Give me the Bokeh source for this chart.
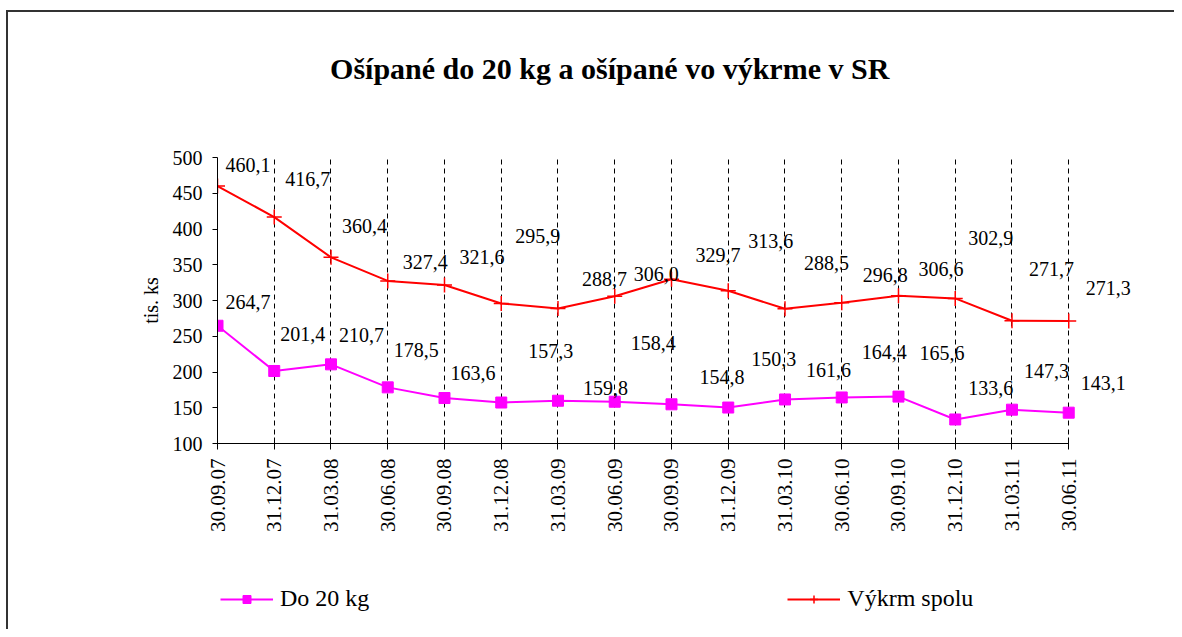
from math import pi
from bokeh.plotting import figure
from bokeh.layouts import column
from bokeh.models import (ColumnDataSource, FixedTicker, Range1d, LabelSet, Label,
                          Legend, LegendItem)
from bokeh.embed import file_html
from bokeh.resources import INLINE

title_text = "Ošípané do 20 kg a ošípané vo výkrme v SR"
y_label = "tis. ks"
dates = ["30.09.07", "31.12.07", "31.03.08", "30.06.08", "30.09.08", "31.12.08",
         "31.03.09", "30.06.09", "30.09.09", "31.12.09", "31.03.10", "30.06.10",
         "30.09.10", "31.12.10", "31.03.11", "30.06.11"]
do20 = [264.7, 201.4, 210.7, 178.5, 163.6, 157.3, 159.8, 158.4, 154.8, 150.3,
        161.6, 164.4, 165.6, 133.6, 147.3, 143.1]
vykrm = [460.1, 416.7, 360.4, 327.4, 321.6, 295.9, 288.7, 306.0, 329.7, 313.6,
         288.5, 296.8, 306.6, 302.9, 271.7, 271.3]
y_ticks = [100, 150, 200, 250, 300, 350, 400, 450, 500]
name_do20 = "Do 20 kg"
name_vykrm = "Výkrm spolu"

# label placement offsets (pixels, style only)
vykrm_dx = [8, 11, 11, 15, 15, 14, 24, 19, 24, 20, 19, 21, 20, 13, 17, 17]
vykrm_dy = [21, 38, 31, 19, 28, 67, 30, 22, 24, 50, 46, 28, 27, 60, 52, 33]
do20_dx = [8, 6, 8, 6, 6, 27, 25, 16, 28, 23, 21, 20, 21, 13, 12, 12]
do20_dy = [24, 37, 29, 37, 25, 52, 13, 59, 27, 49, 29, 45, 44, 31, 39, 30]

FONT = "Liberation Serif"
MAGENTA = "#FF00FF"
RED = "#FF0000"
xs = list(range(len(dates)))
n_last = len(dates) - 1

def fmt(v):
    return f"{v:.1f}".replace(".", ",")

src_a = ColumnDataSource(dict(x=xs, y=do20, t=[fmt(v) for v in do20], dx=do20_dx, dy=do20_dy))
src_b = ColumnDataSource(dict(x=xs, y=vykrm, t=[fmt(v) for v in vykrm], dx=vykrm_dx, dy=vykrm_dy))

def strip(height):
    f = figure(width=1166, height=height, x_range=Range1d(0, 1), y_range=Range1d(0, 1),
               output_backend="svg", toolbar_location=None,
               min_border_left=0, min_border_right=0, min_border_top=0, min_border_bottom=0)
    f.axis.visible = False
    f.grid.visible = False
    f.outline_line_color = None
    f.border_fill_color = "white"
    f.background_fill_color = "white"
    return f

# title strip
t = strip(100)
t.add_layout(Label(x=0.424, y=0.44, text=title_text, text_font=FONT, text_font_size="30px",
                   text_font_style="bold", text_align="center", text_baseline="middle",
                   text_color="black"))

# main chart
p = figure(width=1166, height=460, x_range=Range1d(0, n_last + 1.3), y_range=Range1d(100, 500),
           output_backend="svg", toolbar_location=None,
           min_border_left=209, min_border_right=32, min_border_top=45, min_border_bottom=129)
p.outline_line_color = None
p.background_fill_color = "white"
p.border_fill_color = "white"

p.ygrid.visible = False
p.xgrid.ticker = FixedTicker(ticks=xs)
p.xgrid.grid_line_color = "black"
p.xgrid.grid_line_dash = "5 4"
p.xgrid.grid_line_width = 1

xa = p.xaxis[0]
xa.bounds = (0, n_last)
xa.ticker = FixedTicker(ticks=xs)
xa.major_label_overrides = {i: d for i, d in enumerate(dates)}
xa.major_label_orientation = pi / 2
xa.major_label_text_font = FONT
xa.major_label_text_font_size = "21px"
xa.major_label_text_color = "black"
xa.major_tick_in = 6
xa.major_tick_out = 6
xa.minor_tick_line_color = None
xa.axis_line_color = "black"
xa.major_tick_line_color = "black"
xa.major_label_standoff = 9

ya = p.yaxis[0]
ya.ticker = FixedTicker(ticks=y_ticks)
ya.major_label_text_font = FONT
ya.major_label_text_font_size = "20px"
ya.major_label_text_color = "black"
ya.major_tick_in = 0
ya.major_tick_out = 5
ya.minor_tick_line_color = None
ya.axis_line_color = "black"
ya.major_tick_line_color = "black"
ya.major_label_standoff = 10
ya.axis_label = y_label
ya.axis_label_text_font = FONT
ya.axis_label_text_font_size = "20px"
ya.axis_label_text_font_style = "normal"
ya.axis_label_text_color = "black"
ya.axis_label_standoff = 8

p.line("x", "y", source=src_a, line_color=MAGENTA, line_width=2)
p.scatter("x", "y", source=src_a, marker="square", size=11, fill_color=MAGENTA, line_color=MAGENTA)
p.line("x", "y", source=src_b, line_color=RED, line_width=2)
p.scatter("x", "y", source=src_b, marker="cross", size=15, line_color=RED, line_width=1.5)

for src in (src_a, src_b):
    p.add_layout(LabelSet(x="x", y="y", text="t", source=src, x_offset="dx", y_offset="dy",
                          text_font=FONT, text_font_size="20px", text_color="black",
                          text_align="left", text_baseline="middle"))

# legend strip below the chart (series drawn outside its visible window; only the legend shows)
q = strip(57)
qa_l = q.line("x", "y", source=src_a, line_color=MAGENTA, line_width=2)
qa_m = q.scatter("x", "y", source=src_a, marker="square", size=11, fill_color=MAGENTA, line_color=MAGENTA)
qb_l = q.line("x", "y", source=src_b, line_color=RED, line_width=2)
qb_m = q.scatter("x", "y", source=src_b, marker="cross", size=15, line_color=RED, line_width=1.5)
legend = Legend(items=[LegendItem(label=name_do20, renderers=[qa_l, qa_m]),
                       LegendItem(label=name_vykrm, renderers=[qb_l, qb_m])],
                orientation="horizontal", location=(3, 17), spacing=418,
                glyph_width=53, label_standoff=7, padding=0, margin=0,
                border_line_color=None, background_fill_alpha=0,
                label_text_font=FONT, label_text_font_size="24px", label_text_color="black")
q.add_layout(legend, "center")

layout = column(t, p, q, spacing=0)
layout.margin = (10, 0, 0, 6)
layout.styles = {"border-left": "2px solid #333", "border-top": "2px solid #333"}

open("out.html", "w").write(file_html(layout, INLINE))
